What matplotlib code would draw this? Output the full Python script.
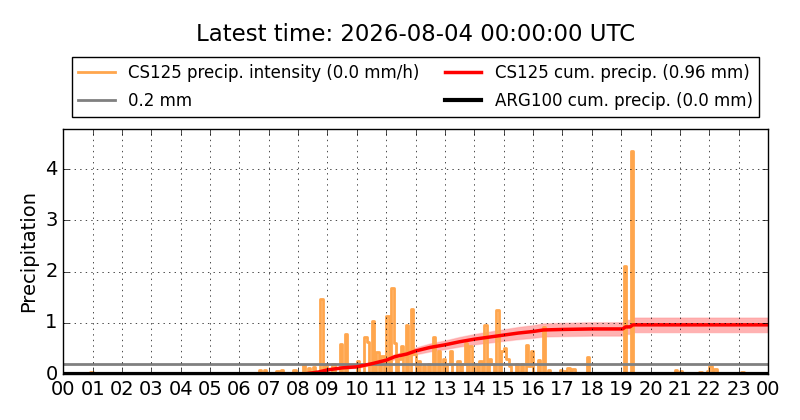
import matplotlib
matplotlib.use("Agg")
import matplotlib.pyplot as plt
import numpy as np

plt.style.use("classic")

# intensity spikes (hour of day, mm/h)
spike_hours = [0.9, 6.7, 6.8, 7.27, 7.4, 7.87, 8.14, 8.3, 8.48, 8.72, 8.92, 9.18,
               9.4, 9.55, 9.62, 10.0, 10.22, 10.37, 10.53, 10.7, 10.85, 11.04, 11.17,
               11.27, 11.4, 11.5, 11.64, 11.87, 11.95, 12.12, 12.26, 12.4, 12.55,
               12.78, 12.9, 13.05, 13.17, 13.4, 13.55, 13.63, 13.86, 14.0, 14.15,
               14.3, 14.48, 14.6, 14.71, 14.88, 14.97, 15.05, 15.15, 15.39, 15.59,
               15.73, 15.85, 15.92, 16.18, 16.33, 16.5, 16.88, 17.0, 17.18, 17.3,
               17.85, 19.1, 19.34, 20.83, 20.97, 21.37, 21.7, 21.9, 22.02, 22.14,
               23.12]
spike_vals = [0.04, 0.08, 0.07, 0.05, 0.07, 0.07, 0.17, 0.12, 0.14, 1.46, 0.19, 0.2,
              0.59, 0.25, 0.79, 0.25, 0.72, 0.63, 1.04, 0.43, 0.35, 1.13, 1.67,
              0.61, 0.3, 0.55, 0.96, 1.26, 0.4, 0.25, 0.15, 0.2, 0.73,
              0.45, 0.3, 0.2, 0.45, 0.25, 0.2, 0.6, 0.55, 0.2, 0.25,
              0.96, 0.3, 0.2, 1.25, 0.45, 0.5, 0.3, 0.15, 0.2, 0.2,
              0.57, 0.15, 0.44, 0.27, 0.92, 0.08, 0.08, 0.05, 0.12, 0.1,
              0.34, 2.1, 4.35, 0.08, 0.06, 0.02, 0.04, 0.05, 0.15, 0.1,
              0.03]

# cumulative precipitation (hour, mm)
cum_hours = [0, 8.2, 8.7, 9.0, 9.5, 10.0, 10.5, 11.0, 11.3, 11.7, 12.0, 12.5, 13.0,
             13.5, 14.0, 14.5, 15.0, 15.5, 16.0, 16.35, 17.0, 18.0, 19.05, 19.15,
             19.3, 19.4, 24]
cum_vals = [0, 0, 0.04, 0.08, 0.12, 0.14, 0.2, 0.27, 0.34, 0.39, 0.45, 0.52, 0.57,
            0.63, 0.68, 0.72, 0.76, 0.8, 0.83, 0.86, 0.87, 0.88, 0.88, 0.92,
            0.92, 0.96, 0.96]

threshold = 0.2
tick_labels = ["%02d" % (h % 24) for h in range(25)]

# put spikes on a 5 minute grid
t = np.arange(0, 24 + 1e-9, 1 / 12.0)
inten = np.zeros(len(t))
for h, v in zip(spike_hours, spike_vals):
    inten[int(round(h * 12))] = v

cum_hours = np.array(cum_hours)
cum_vals = np.array(cum_vals)

fig = plt.figure(figsize=(8, 4.2), dpi=100, facecolor="white")
ax = fig.add_axes([0.079, 0.1095, 0.881, 0.5835])

ax.plot(t, inten, color="#ffa64d", lw=2, drawstyle="steps-post",
        label="CS125 precip. intensity (0.0 mm/h)")
ax.axhline(threshold, color="gray", lw=2, label="0.2 mm")
ax.fill_between(cum_hours, cum_vals * 0.85, cum_vals * 1.15, color="red",
                alpha=0.3, lw=1, edgecolor="#ff8080")
ax.plot(cum_hours, cum_vals, color="red", lw=2.5, label="CS125 cum. precip. (0.96 mm)")
ax.plot([0, 24], [0, 0], color="black", lw=3, label="ARG100 cum. precip. (0.0 mm)")

ax.set_xlim(0, 24)
ax.set_ylim(0, max(spike_vals) * 1.1)
ax.set_xticks(range(25))
ax.set_xticklabels(tick_labels, fontsize=14)
ax.set_yticks(range(5))
ax.tick_params(axis="y", labelsize=14)
ax.grid(True)
ax.set_ylabel("Precipitation", fontsize=14)

leg = ax.legend(ncol=2, loc="center", bbox_to_anchor=(0.5, 1.171), fontsize=12,
                numpoints=1, handlelength=2.2, columnspacing=1.5,
                labelspacing=0.6, borderaxespad=0, frameon=True)
leg.get_frame().set_edgecolor("black")

fig.text(0.519, 0.917, "Latest time: 2026-08-04 00:00:00 UTC", fontsize=16.5,
         ha="center", va="center")

fig.savefig("out.png", dpi=100, facecolor="white")
